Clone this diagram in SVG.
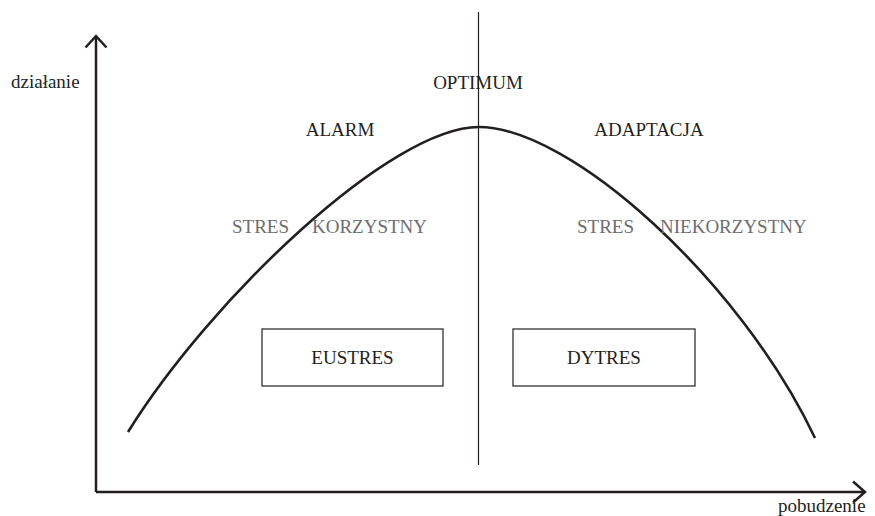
<svg xmlns="http://www.w3.org/2000/svg" width="875" height="516" viewBox="0 0 875 516">
<style>
text{font-family:"Liberation Serif","DejaVu Serif",serif;font-size:19px;fill:#231f20}
.g{fill:#6d6e70}
.axis{stroke:#231f20;stroke-width:2.5;fill:none}
.box{stroke:#231f20;stroke-width:1.2;fill:#fff}
</style>
<rect width="875" height="516" fill="#fff"/>
<g id="connectors">
<path class="axis" d="M96,492 V36 M85.5,47.5 L96,36 L106.5,47.5"/>
<path class="axis" d="M96,492 H865 M853,481.5 L865,492 L853,502.5"/>
<line x1="478.5" y1="12" x2="478.5" y2="465" stroke="#231f20" stroke-width="1.2"/>
<path d="M128,432 C210,300 390,127 479,127 C570,127 740,280 815,438" fill="none" stroke="#231f20" stroke-width="2.6"/>
</g>
<g id="labels">
<text x="11" y="88">działanie</text>
<text x="478" y="89" text-anchor="middle">OPTIMUM</text>
<text x="340" y="136" text-anchor="middle">ALARM</text>
<text x="649" y="136" text-anchor="middle">ADAPTACJA</text>
<text class="g" x="232" y="233">STRES</text>
<text class="g" x="312" y="233">KORZYSTNY</text>
<text class="g" x="577" y="233">STRES</text>
<text class="g" x="660" y="233">NIEKORZYSTNY</text>
<text x="778" y="512">pobudzenie</text>
</g>
<g id="eustres">
<rect class="box" x="262" y="329" width="181" height="57"/>
<text x="352.5" y="364" text-anchor="middle">EUSTRES</text>
</g>
<g id="dytres">
<rect class="box" x="513" y="329" width="182" height="57"/>
<text x="604" y="364" text-anchor="middle">DYTRES</text>
</g>
</svg>
